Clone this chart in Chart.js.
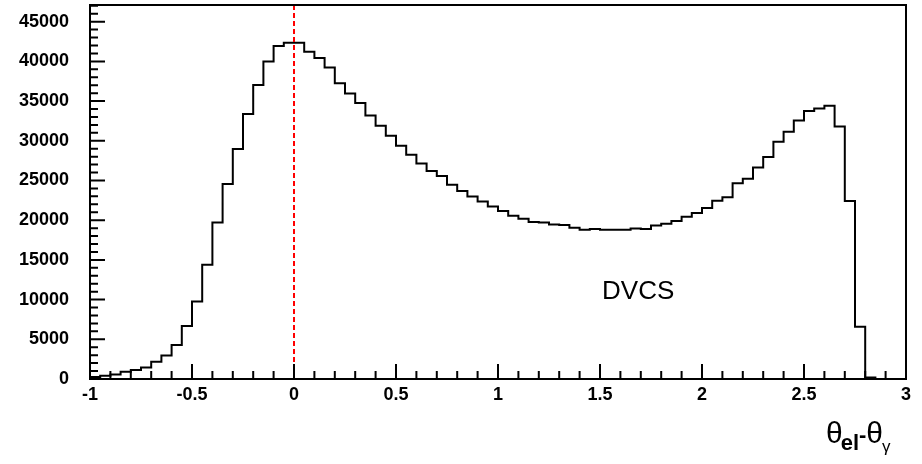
<!DOCTYPE html>
<html>
<head>
<meta charset="utf-8">
<script src="https://cdn.jsdelivr.net/npm/chart.js@4.4.1/dist/chart.umd.min.js"></script>
<style>
  html, body { margin: 0; padding: 0; background: #fff; }
  #wrap { width: 922px; height: 464px; }
</style>
</head>
<body>
<div id="wrap"><canvas id="histo" width="922" height="464"></canvas></div>
<script>
// theta_el - theta_gamma, 80 bins of 0.05 between -1 and 3
var binLow = -1;
var binWidth = 0.05;
var counts = [
    250, 415, 580, 920, 1130, 1460, 2180, 2970, 4280, 6670,
    9770, 14390, 19720, 24550, 28960, 33380, 37010, 39970, 41950, 42340,
    42340, 41210, 40410, 39230, 37240, 35960, 34750, 33190, 31890, 30630,
    29370, 28240, 27140, 26190, 25560, 24460, 23670, 22990, 22360, 21730,
    21150, 20560, 20180, 19770, 19720, 19470, 19390, 19050, 18800, 18880,
    18800, 18800, 18800, 18960, 18880, 19340, 19550, 19890, 20430, 20900,
    21530, 22450, 22900, 24650, 25220, 26640, 27950, 29880, 31130, 32560,
    33740, 34070, 34410, 31800, 22410, 6580, 200, 0, 0, 0
];
var xTickValues = [-1, -0.5, 0, 0.5, 1, 1.5, 2, 2.5, 3];
var yTickValues = [0, 5000, 10000, 15000, 20000, 25000, 30000, 35000, 40000, 45000];
var yMax = 47100;
var cutAt = 0;          // red dashed line
var tagText = 'DVCS';
var tagAt = [1.51, 10070];

// points at the low edge of each bin, plus the closing edge
var points = counts.map(function (c, i) {
    return { x: binLow + i * binWidth, y: c };
});
points.push({ x: binLow + counts.length * binWidth, y: counts[counts.length - 1] });

var tickFont = { family: 'Liberation Sans', weight: 'bold', size: 18 };

// ROOT style frame, inward ticks, cut line and text
var rootDecor = {
    id: 'rootDecor',
    afterDatasetsDraw: function (chart) {
        var ctx = chart.ctx, a = chart.chartArea;
        var xs = chart.scales.x, ys = chart.scales.y;

        ctx.save();
        ctx.strokeStyle = '#ff0000';
        ctx.lineWidth = 2;
        ctx.setLineDash([5, 3]);
        var px = Math.round(xs.getPixelForValue(cutAt));
        ctx.beginPath();
        ctx.moveTo(px, a.top);
        ctx.lineTo(px, a.bottom);
        ctx.stroke();
        ctx.restore();

        ctx.save();
        ctx.strokeStyle = '#000';
        ctx.lineWidth = 2;
        ctx.strokeRect(a.left, a.top, a.right - a.left, a.bottom - a.top);

        ctx.beginPath();
        for (var i = 0; i * 1000 <= ys.max; i++) {
            var py = ys.getPixelForValue(i * 1000);
            var len = i % 5 === 0 ? 15 : 8;
            ctx.moveTo(a.left, py);
            ctx.lineTo(a.left + len, py);
        }
        for (var j = 0; j <= 40; j++) {
            var tx = xs.getPixelForValue(-1 + j * 0.1);
            var tl = j % 5 === 0 ? 15 : 8;
            ctx.moveTo(tx, a.bottom);
            ctx.lineTo(tx, a.bottom - tl);
        }
        ctx.stroke();

        ctx.fillStyle = '#000';
        ctx.textBaseline = 'alphabetic';
        ctx.textAlign = 'left';
        ctx.font = '26px "Liberation Sans"';
        ctx.fillText(tagText, xs.getPixelForValue(tagAt[0]), ys.getPixelForValue(tagAt[1]));

        // axis title: theta_el - theta_gamma, pieces chained left to right
        var x = 826;
        var big = '30px "Liberation Sans"';
        var sub = 'bold 22px "Liberation Sans"';
        ctx.font = big;
        ctx.fillText('\u03b8', x, 443);
        x += ctx.measureText('\u03b8').width - 2;
        ctx.font = sub;
        ctx.fillText('el', x, 450);
        x += ctx.measureText('el').width;
        ctx.fillText('-', x, 442);
        x += ctx.measureText('-').width;
        ctx.font = big;
        ctx.fillText('\u03b8', x, 443);
        x += ctx.measureText('\u03b8').width - 1;
        ctx.font = '17px "Liberation Sans"';
        ctx.fillText('\u03b3', x, 452);
        ctx.restore();
    }
};

new Chart(document.getElementById('histo'), {
    type: 'line',
    data: {
        datasets: [{
            data: points,
            stepped: 'before',
            borderColor: '#000',
            borderWidth: 2,
            pointRadius: 0,
            fill: false
        }]
    },
    options: {
        responsive: false,
        animation: false,
        layout: { padding: { top: 5, right: 16, left: 0, bottom: 0 } },
        plugins: { legend: { display: false }, tooltip: { enabled: false } },
        scales: {
            x: {
                type: 'linear',
                min: -1,
                max: 3,
                grid: { display: false, drawTicks: false },
                border: { display: false },
                afterBuildTicks: function (axis) {
                    axis.ticks = xTickValues.map(function (v) { return { value: v }; });
                },
                afterFit: function (axis) {
                    axis.height = 85;
                    axis.paddingLeft = 0;
                    axis.paddingRight = 0;
                },
                ticks: {
                    color: '#000',
                    font: tickFont,
                    padding: 5,
                    maxRotation: 0,
                    autoSkip: false,
                    callback: function (v) { return String(+v.toFixed(2)); }
                }
            },
            y: {
                type: 'linear',
                min: 0,
                max: yMax,
                grid: { display: false, drawTicks: false },
                border: { display: false },
                afterBuildTicks: function (axis) {
                    axis.ticks = yTickValues.map(function (v) { return { value: v }; });
                },
                afterFit: function (axis) {
                    axis.width = 90;
                    axis.paddingTop = 0;
                    axis.paddingBottom = 0;
                },
                ticks: {
                    color: '#000',
                    font: tickFont,
                    padding: 21,
                    autoSkip: false,
                    callback: function (v) { return String(v); }
                }
            }
        }
    },
    plugins: [rootDecor]
});
</script>
</body>
</html>
